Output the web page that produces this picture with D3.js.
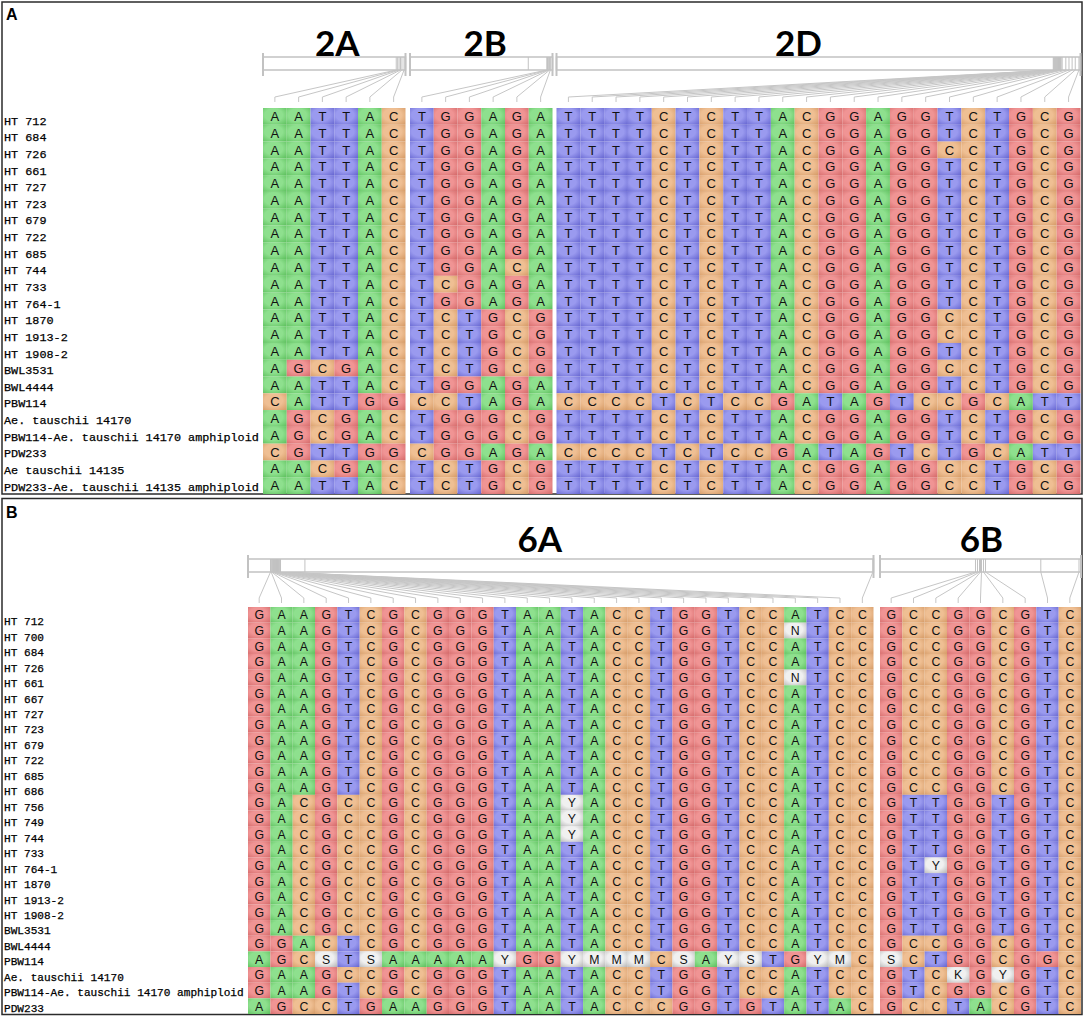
<!DOCTYPE html>
<html>
<head>
<meta charset="utf-8">
<script src="https://d3js.org/d3.v7.min.js"></script>
<style>
  body { margin: 0; background: #fff; }
  .label { font-family: "Liberation Mono", "Courier New", monospace; fill: #000; stroke: #000; stroke-width: 0.25; }
  .base { font-family: "Liberation Sans", Arial, sans-serif; fill: #111; text-anchor: middle; }
  .title { font-family: Lato, "Open Sans", sans-serif; font-weight: 700; fill: #000; text-anchor: middle; }
  .panel { font-family: "Liberation Sans", Arial, sans-serif; font-weight: 700; fill: #000; }
</style>
</head>
<body>
<script>
// ---------- Panel A data ----------
var rowsA = ["HT 712", "HT 684", "HT 726", "HT 661", "HT 727", "HT 723", "HT 679",
  "HT 722", "HT 685", "HT 744", "HT 733", "HT 764-1", "HT 1870", "HT 1913-2",
  "HT 1908-2", "BWL3531", "BWL4444", "PBW114", "Ae. tauschii 14170",
  "PBW114-Ae. tauschii 14170 amphiploid", "PDW233", "Ae tauschii 14135",
  "PDW233-Ae. tauschii 14135 amphiploid"];

var seq2A = ["AATTAC", "AATTAC", "AATTAC", "AATTAC", "AATTAC", "AATTAC", "AATTAC",
  "AATTAC", "AATTAC", "AATTAC", "AATTAC", "AATTAC", "AATTAC", "AATTAC",
  "AATTAC", "AGCGAC", "AATTAC", "CATTGG", "AGCGAC",
  "AGCGAC", "CGTTGG", "AACGAC", "AATTAC"];

var seq2B = ["TGGAGA", "TGGAGA", "TGGAGA", "TGGAGA", "TGGAGA", "TGGAGA", "TGGAGA",
  "TGGAGA", "TGGAGA", "TGGACA", "TCGAGA", "TGGAGA", "TCTGCG", "TCTGCG",
  "TCTGCG", "TCTGCG", "TGGAGA", "CCTAGA", "TGGGCG",
  "TGGGCG", "CGGAGA", "TCTGCG", "TCTGCG"];

var seq2D = ["TTTTCTCTTACGGAGGTCTGCG", "TTTTCTCTTACGGAGGTCTGCG", "TTTTCTCTTACGGAGGCCTGCG",
  "TTTTCTCTTACGGAGGTCTGCG", "TTTTCTCTTACGGAGGTCTGCG", "TTTTCTCTTACGGAGGTCTGCG",
  "TTTTCTCTTACGGAGGTCTGCG", "TTTTCTCTTACGGAGGTCTGCG", "TTTTCTCTTACGGAGGTCTGCG",
  "TTTTCTCTTACGGAGGTCTGCG", "TTTTCTCTTACGGAGGTCTGCG", "TTTTCTCTTACGGAGGTCTGCG",
  "TTTTCTCTTACGGAGGCCTGCG", "TTTTCTCTTACGGAGGCCTGCG", "TTTTCTCTTACGGAGGTCTGCG",
  "TTTTCTCTTACGGAGGCCTGCG", "TTTTCTCTTACGGAGGTCTGCG", "CCCCTCTCCGATAGTCCGCATT",
  "TTTTCTCTTACGGAGGTCTGCG", "TTTTCTCTTACGGAGGTCTGCG", "CCCCTCTCCGATAGTCTGCATT",
  "TTTTCTCTTACGGAGGCCTGCG", "TTTTCTCTTACGGAGGCCTGCG"];

// SNP positions along each gene bar (fraction of bar length)
var pos2A = [0.935, 0.945, 0.955, 0.965, 0.975, 0.99];
var pos2B = [0.96, 0.965, 0.97, 0.975, 0.98, 0.985];
var pos2D = [0.948, 0.949, 0.950, 0.951, 0.952, 0.953, 0.954, 0.955, 0.956, 0.957,
  0.958, 0.959, 0.960, 0.961, 0.962, 0.963, 0.965, 0.972, 0.978, 0.984, 0.990, 0.997];
var marks2B = [0.83];

// ---------- Panel B data ----------
var rowsB = ["HT 712", "HT 700", "HT 684", "HT 726", "HT 661", "HT 667", "HT 727",
  "HT 723", "HT 679", "HT 722", "HT 685", "HT 686", "HT 756", "HT 749", "HT 744",
  "HT 733", "HT 764-1", "HT 1870", "HT 1913-2", "HT 1908-2", "BWL3531", "BWL4444",
  "PBW114", "Ae. tauschii 14170", "PBW114-Ae. tauschii 14170 amphiploid", "PDW233"];

var seq6A = ["GAAGTCGCGGGTAATACCTGGTCCATCC", "GAAGTCGCGGGTAATACCTGGTCCNTCC",
  "GAAGTCGCGGGTAATACCTGGTCCATCC", "GAAGTCGCGGGTAATACCTGGTCCATCC",
  "GAAGTCGCGGGTAATACCTGGTCCNTCC", "GAAGTCGCGGGTAATACCTGGTCCATCC",
  "GAAGTCGCGGGTAATACCTGGTCCATCC", "GAAGTCGCGGGTAATACCTGGTCCATCC",
  "GAAGTCGCGGGTAATACCTGGTCCATCC", "GAAGTCGCGGGTAATACCTGGTCCATCC",
  "GAAGTCGCGGGTAATACCTGGTCCATCC", "GAAGTCGCGGGTAATACCTGGTCCATCC",
  "GACGCCGCGGGTAAYACCTGGTCCATCC", "GACGCCGCGGGTAAYACCTGGTCCATCC",
  "GACGCCGCGGGTAAYACCTGGTCCATCC", "GACGCCGCGGGTAATACCTGGTCCATCC",
  "GACGCCGCGGGTAATACCTGGTCCATCC", "GACGCCGCGGGTAATACCTGGTCCATCC",
  "GACGCCGCGGGTAATACCTGGTCCATCC", "GACGCCGCGGGTAATACCTGGTCCATCC",
  "GACGCCGCGGGTAATACCTGGTCCATCC", "GGACTCGCGGGTAATACCTGGTCCATCC",
  "AGCSTSAAAAAYGGYMMMCSAYSTGYMC", "GAAGCCGCGGGTAATACCTGGTCCATCC",
  "GAAGTCGCGGGTAATACCTGGTCCATCC", "AGCCTGAAGGGTAATACCCGGTGTATAC"];

var seq6B = ["GCCGGCGTC", "GCCGGCGTC", "GCCGGCGTC", "GCCGGCGTC", "GCCGGCGTC",
  "GCCGGCGTC", "GCCGGCGTC", "GCCGGCGTC", "GCCGGCGTC", "GCCGGCGTC", "GCCGGCGTC",
  "GCCGGCGTC", "GTTGGTGTC", "GTTGGTGTC", "GTTGGTGTC", "GTTGGTGTC", "GTYGGTGTC",
  "GTTGGTGTC", "GTTGGTGTC", "GTTGGTGTC", "GTTGGTGTC", "GCCGGCGTC", "SCTGGCGGC",
  "GTCKGYGTC", "GTCGGCGTC", "GCCTACGTC"];

var pos6A = [0.036, 0.037, 0.038, 0.039, 0.040, 0.0405, 0.041, 0.0415, 0.042, 0.0425,
  0.043, 0.0435, 0.044, 0.0445, 0.045, 0.0455, 0.046, 0.0465, 0.047, 0.0475,
  0.048, 0.0485, 0.049, 0.0495, 0.050, 0.051, 0.052, 0.999];
var pos6B = [0.475, 0.485, 0.495, 0.5, 0.505, 0.515, 0.525, 0.8, 0.99];
var marks6A = [0.091];

// ---------- Colours ----------
var baseColor = {
  A: ["#8ee08e", "#60c260"],
  C: ["#efbf93", "#d79d69"],
  G: ["#f09494", "#d66c6c"],
  T: ["#9a9aef", "#6a6ad3"],
  X: ["#f0f0f0", "#b9b9b9"]
};
function colorKey(b) { return baseColor[b] ? b : "X"; }

var w = 1084;
var h = 1017;

var svg = d3.select("body")
  .append("svg")
  .attr("width", w)
  .attr("height", h);

// gradients for the bevelled cells
var defs = svg.append("defs");
Object.keys(baseColor).forEach(function(k) {
  var g = defs.append("radialGradient")
    .attr("id", "cell-" + k)
    .attr("cx", "45%").attr("cy", "42%").attr("r", "75%");
  g.append("stop").attr("offset", "0%").attr("stop-color", baseColor[k][0]);
  g.append("stop").attr("offset", "50%").attr("stop-color", baseColor[k][0]);
  g.append("stop").attr("offset", "100%").attr("stop-color", baseColor[k][1]);
});

// Panel layouts
var panels = [
  {
    letter: "A", frame: [2, 2, 1080, 492], letterY: 20,
    rows: rowsA,
    cellRange: [108, 494], labelRange: [112.8, 495.5],
    labelSize: 11.8, baseSize: 13, titleSize: 35, titleY: 56,
    bar: [57, 70], fanY: 97, tickY: 102,
    regions: [
      {name: "2A", seqs: seq2A, pos: pos2A, marks: [], x: [263, 405.5], dx: 3},
      {name: "2B", seqs: seq2B, pos: pos2B, marks: marks2B, x: [410, 552.5], dx: 4},
      {name: "2D", seqs: seq2D, pos: pos2D, marks: [], x: [556.5, 1080.5], dx: -20}
    ]
  },
  {
    letter: "B", frame: [2, 498.5, 1080, 516], letterY: 518,
    rows: rowsB,
    cellRange: [607, 1014], labelRange: [614, 1016],
    labelSize: 11.1, baseSize: 12.3, titleSize: 35, titleY: 552,
    bar: [559, 572], fanY: 598, tickY: 603,
    regions: [
      {name: "6A", seqs: seq6A, pos: pos6A, marks: marks6A, x: [248, 873.5], dx: -21},
      {name: "6B", seqs: seq6B, pos: pos6B, marks: [], x: [880, 1081], dx: 1}
    ]
  }
];

function drawPanel(p) {
  var g = svg.append("g");

  // frame
  g.append("rect")
    .attr("x", p.frame[0]).attr("y", p.frame[1])
    .attr("width", p.frame[2]).attr("height", p.frame[3])
    .attr("fill", "none")
    .attr("stroke", "#2b2b2b")
    .attr("stroke-width", 1.5);

  g.append("text")
    .attr("class", "panel")
    .attr("x", 6).attr("y", p.letterY)
    .style("font-size", "16px")
    .text(p.letter);

  var yScale = d3.scaleBand().domain(p.rows).range(p.cellRange);
  var yLabel = d3.scaleBand().domain(p.rows).range(p.labelRange);

  // sample names
  g.selectAll(".label")
    .data(p.rows)
    .enter()
    .append("text")
    .attr("class", "label")
    .attr("x", 4)
    .attr("y", function(d) { return yLabel(d) + yLabel.bandwidth() / 2 + 3.5; })
    .style("font-size", p.labelSize + "px")
    .text(function(d) { return d; });

  p.regions.forEach(function(r) {
    var n = r.seqs[0].length;
    var xScale = d3.scaleBand().domain(d3.range(n)).range(r.x);
    var barScale = d3.scaleLinear().domain([0, 1]).range(r.x);
    var bw = xScale.bandwidth();
    var bh = yScale.bandwidth();

    // region title
    g.append("text")
      .attr("class", "title")
      .attr("x", (r.x[0] + r.x[1]) / 2 + r.dx)
      .attr("y", p.titleY)
      .style("font-size", p.titleSize + "px")
      .text(r.name);

    // fan lines from gene bar to alignment columns
    g.selectAll(".fan-" + r.name)
      .data(r.pos)
      .enter()
      .append("path")
      .attr("d", function(d, i) {
        var cx = xScale(i) + bw / 2;
        return "M" + barScale(d) + "," + p.bar[1] + "L" + cx + "," + p.fanY + "L" + cx + "," + p.tickY;
      })
      .attr("fill", "none")
      .attr("stroke", "#c6c6c6")
      .attr("stroke-width", 1);

    // gene bar
    g.append("rect")
      .attr("x", r.x[0]).attr("y", p.bar[0])
      .attr("width", r.x[1] - r.x[0]).attr("height", p.bar[1] - p.bar[0])
      .attr("fill", "#fff")
      .attr("stroke", "#c2c2c2")
      .attr("stroke-width", 1.5);

    // SNP ticks inside bar
    g.selectAll(".tick-" + r.name)
      .data(r.pos.concat(r.marks))
      .enter()
      .append("line")
      .attr("x1", function(d) { return barScale(d); })
      .attr("x2", function(d) { return barScale(d); })
      .attr("y1", p.bar[0]).attr("y2", p.bar[1])
      .attr("stroke", "#c2c2c2")
      .attr("stroke-width", 1);

    // bar end caps
    g.selectAll(".cap-" + r.name)
      .data([0, 1])
      .enter()
      .append("line")
      .attr("x1", function(d) { return barScale(d); })
      .attr("x2", function(d) { return barScale(d); })
      .attr("y1", p.bar[0] - 4).attr("y2", p.bar[1] + 6)
      .attr("stroke", "#c2c2c2")
      .attr("stroke-width", 2);

    // cells
    var cells = [];
    r.seqs.forEach(function(s, ri) {
      s.split("").forEach(function(b, ci) {
        cells.push({row: p.rows[ri], col: ci, base: b});
      });
    });

    g.selectAll(".cell-" + r.name)
      .data(cells)
      .enter()
      .append("rect")
      .attr("x", function(d) { return xScale(d.col); })
      .attr("y", function(d) { return yScale(d.row); })
      .attr("width", bw)
      .attr("height", bh)
      .attr("fill", function(d) { return "url(#cell-" + colorKey(d.base) + ")"; });

    g.selectAll(".letter-" + r.name)
      .data(cells)
      .enter()
      .append("text")
      .attr("class", "base")
      .attr("x", function(d) { return xScale(d.col) + bw / 2; })
      .attr("y", function(d) { return yScale(d.row) + bh / 2 + 4.6; })
      .style("font-size", p.baseSize + "px")
      .text(function(d) { return d.base; });
  });
}

panels.forEach(drawPanel);
</script>
</body>
</html>
